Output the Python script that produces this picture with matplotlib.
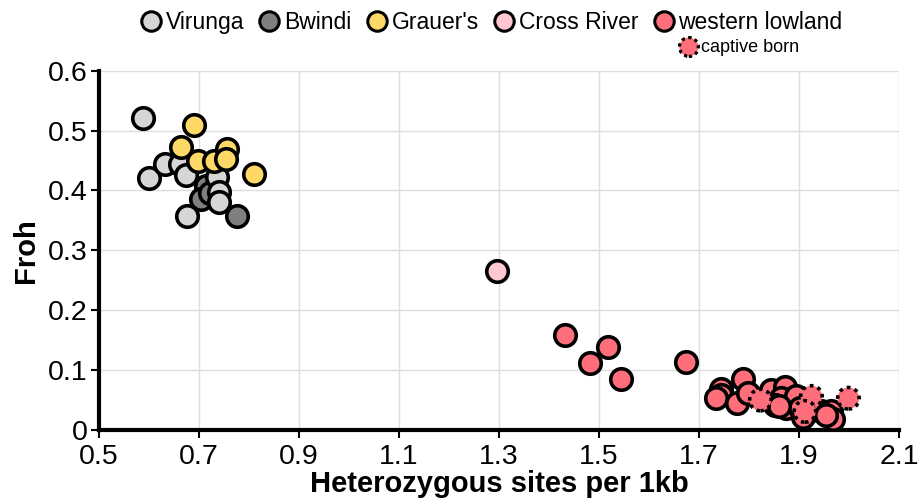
import numpy as np
import matplotlib.pyplot as plt
from matplotlib.lines import Line2D
from matplotlib.ticker import FuncFormatter

plt.rcParams['font.family'] = ['Liberation Sans', 'DejaVu Sans']

# Heterozygous sites per 1kb (x) and Froh (y), per population
virunga_x = [0.587, 0.599, 0.632, 0.663, 0.675, 0.677, 0.737, 0.741, 0.741]
virunga_y = [0.521, 0.420, 0.444, 0.445, 0.425, 0.358, 0.422, 0.397, 0.380]

bwindi_x = [0.714, 0.704, 0.722, 0.777]
bwindi_y = [0.408, 0.386, 0.395, 0.358]

grauers_x = [0.691, 0.665, 0.699, 0.731, 0.756, 0.754, 0.811]
grauers_y = [0.509, 0.473, 0.449, 0.449, 0.470, 0.453, 0.428]

cross_river_x = [1.297]
cross_river_y = [0.266]

western_x = [1.432, 1.519, 1.483, 1.545, 1.675, 1.745, 1.744, 1.735, 1.777,
             1.789, 1.799, 1.845, 1.872, 1.865, 1.852, 1.875, 1.894, 1.902,
             1.909, 1.945, 1.958, 1.965, 1.969, 1.860, 1.955]
western_y = [0.159, 0.139, 0.112, 0.086, 0.114, 0.068, 0.058, 0.053, 0.045,
             0.086, 0.061, 0.067, 0.072, 0.053, 0.042, 0.036, 0.056, 0.036,
             0.022, 0.031, 0.028, 0.031, 0.018, 0.040, 0.025]

captive_x = [1.823, 1.925, 1.912, 1.999]
captive_y = [0.050, 0.056, 0.031, 0.053]

labels = ["Virunga", "Bwindi", "Grauer's", "Cross River", "western lowland"]
colors = ["#d6d6d6", "#7f7f7f", "#ffd966", "#ffc7cf", "#ff6f7b"]

fig = plt.figure(figsize=(9.21, 5), dpi=100)
ax = fig.add_axes([0.1075, 0.14, 0.8685, 0.7186])

ms = 240
lw = 2.6
dotted = (0, (1, 1.2))
ax.scatter(bwindi_x, bwindi_y, s=ms, c=colors[1], edgecolors="black", linewidths=lw, zorder=3)
ax.scatter(virunga_x, virunga_y, s=ms, c=colors[0], edgecolors="black", linewidths=lw, zorder=3)
ax.scatter(grauers_x, grauers_y, s=ms, c=colors[2], edgecolors="black", linewidths=lw, zorder=3)
ax.scatter(cross_river_x, cross_river_y, s=ms, c=colors[3], edgecolors="black", linewidths=lw, zorder=3)
ax.scatter(western_x, western_y, s=ms, c=colors[4], edgecolors="black", linewidths=lw, zorder=3)
ax.scatter(captive_x, captive_y, s=ms, c=colors[4], edgecolors="black", linewidths=lw,
           linestyles=dotted, zorder=3)

ax.set_xlim(0.5, 2.1)
ax.set_ylim(0, 0.6)
ax.set_xticks(np.arange(0.5, 2.11, 0.2))
ax.set_yticks(np.arange(0, 0.61, 0.1))
ax.xaxis.set_major_formatter(FuncFormatter(lambda v, p: f"{v:.1f}"))
ax.yaxis.set_major_formatter(FuncFormatter(lambda v, p: "0" if abs(v) < 1e-9 else f"{v:.1f}"))
ax.tick_params(labelsize=20.5, length=6, width=1.5, direction="out")
ax.tick_params(axis="x", pad=4)
ax.tick_params(axis="y", pad=2)
ax.grid(True, color="#dddddd", linewidth=1, zorder=0)
ax.set_axisbelow(True)

for s in ["top", "right"]:
    ax.spines[s].set_visible(False)
for s in ["left", "bottom"]:
    ax.spines[s].set_linewidth(3)

ax.set_xlabel("Heterozygous sites per 1kb", fontsize=21, fontweight="bold", labelpad=0)
ax.set_ylabel("Froh", fontsize=21, fontweight="bold", labelpad=6)

handles = [Line2D([], [], marker="o", linestyle="", markersize=14, markerfacecolor=c,
                  markeredgecolor="black", markeredgewidth=2.2) for c in colors]
fig.legend(handles, labels, loc="center", bbox_to_anchor=(0.533, 0.955), ncol=5,
           frameon=False, fontsize=16.5, handletextpad=0.15, columnspacing=0.6,
           handlelength=1.0)

# captive born key
fig.add_artist(plt.scatter([0.748], [0.906], s=180, c=colors[4], edgecolors="black",
                           linewidths=2.2, linestyles=dotted,
                           transform=fig.transFigure, clip_on=False))
fig.text(0.761, 0.906, "captive born", fontsize=13, va="center", ha="left")

fig.savefig("out.png", dpi=100)
